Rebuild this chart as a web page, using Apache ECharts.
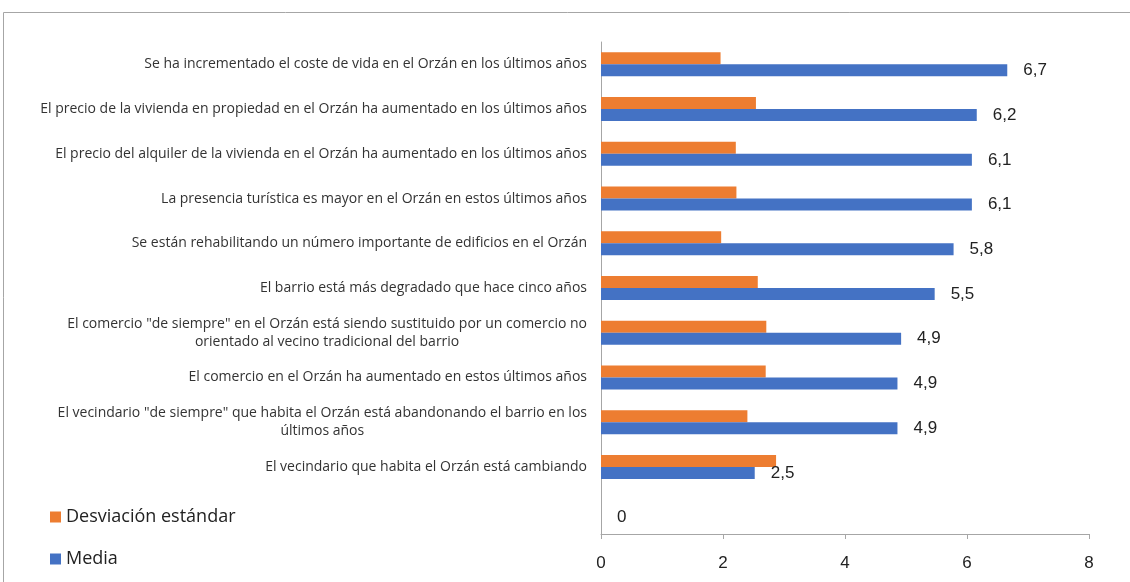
<!DOCTYPE html>
<html>
<head>
<meta charset="utf-8">
<script src="https://cdn.jsdelivr.net/npm/echarts@6/dist/echarts.min.js"></script>
<style>
  html, body { margin: 0; padding: 0; background: #fff; }
  #bar-chart { width: 1130px; height: 582px; }
</style>
</head>
<body>
<div id="bar-chart"></div>
<script>
// categorías, de arriba a abajo (la última va vacía, como en el original)
const categorias = [
  "Se ha incrementado el coste de vida en el Orzán en los últimos años",
  "El precio de la vivienda en propiedad en el Orzán ha aumentado en los últimos años",
  "El precio del alquiler de la vivienda en el Orzán ha aumentado en los últimos años",
  "La presencia turística es mayor en el Orzán en estos últimos años",
  "Se están rehabilitando un número importante de edificios en el Orzán",
  "El barrio está más degradado que hace cinco años",
  "El comercio \"de siempre\" en el Orzán está siendo sustituido por un comercio no\norientado al vecino tradicional del barrio",
  "El comercio en el Orzán ha aumentado en estos últimos años",
  "El vecindario \"de siempre\" que habita el Orzán está abandonando el barrio en los\núltimos años",
  "El vecindario que habita el Orzán está cambiando",
  "",
];
const media = [6.66, 6.16, 6.08, 6.08, 5.78, 5.47, 4.92, 4.86, 4.86, 2.52, 0];
const desviacion = [1.96, 2.54, 2.21, 2.22, 1.97, 2.57, 2.71, 2.7, 2.4, 2.87, 0];
const ticksX = [0, 2, 4, 6, 8];

const fuente = "Liberation Sans";
const fuenteTexto = "Open Sans";

let myChart = echarts.init(document.getElementById("bar-chart"));
myChart.setOption({
  animation: false,
  textStyle: { fontFamily: fuente },
  graphic: [
    {
      type: "rect",
      shape: { x: 3.5, y: 12.5, width: 1140, height: 600 },
      style: { fill: "none", stroke: "#a6a6a6", lineWidth: 1 },
    },
  ],
  legend: {
    orient: "vertical",
    left: 45,
    top: 503,
    itemWidth: 11,
    itemHeight: 11,
    itemGap: 24,
    icon: "rect",
    textStyle: { fontSize: 18, color: "#222", fontFamily: fuenteTexto },
    data: ["Desviación estándar", "Media"],
  },
  grid: {
    left: 601,
    right: 41,
    top: 42,
    bottom: 48,
  },
  xAxis: {
    type: "value",
    min: 0,
    max: 8,
    interval: 2,
    splitLine: { show: false },
    axisLine: { show: true, lineStyle: { color: "#a6a6a6" } },
    axisTick: { show: true, length: 5, lineStyle: { color: "#a6a6a6" } },
    axisLabel: {
      fontSize: 17,
      color: "#222",
      margin: 21,
      formatter: (v) => (ticksX.includes(v) ? String(v) : ""),
    },
  },
  yAxis: {
    type: "category",
    inverse: true,
    data: categorias,
    axisLine: { lineStyle: { color: "#a6a6a6" } },
    axisTick: { length: 5, lineStyle: { color: "#a6a6a6" } },
    axisLabel: {
      fontSize: 14,
      color: "#333",
      margin: 14,
      lineHeight: 18,
      formatter: (v) =>
        v
          .split("\n")
          .map((l) => "{c|" + l + "}")
          .join("\n"),
      rich: {
        c: { align: "center", fontSize: 14, lineHeight: 18, color: "#333", fontFamily: fuenteTexto },
      },
    },
  },
  series: [
    {
      name: "Desviación estándar",
      type: "bar",
      barWidth: 12,
      barGap: "0%",
      itemStyle: { color: "#ED7D31" },
      data: desviacion,
    },
    {
      name: "Media",
      type: "bar",
      barWidth: 12,
      itemStyle: { color: "#4472C4" },
      label: {
        show: true,
        position: "right",
        distance: 16,
        fontSize: 17,
        color: "#222",
        formatter: (p) => (p.value === 0 ? "0" : p.value.toFixed(1).replace(".", ",")),
      },
      data: media,
    },
  ],
});
</script>
</body>
</html>
